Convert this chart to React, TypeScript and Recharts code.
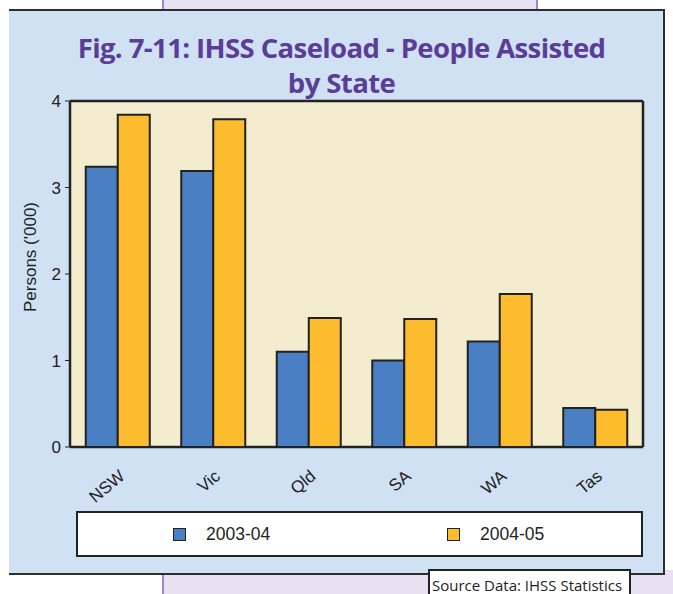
import React from "react";
import { BarChart, Bar, XAxis, YAxis, CartesianGrid } from "recharts";

// Caseload by state, thousands of persons
const states = ["NSW", "Vic", "Qld", "SA", "WA", "Tas"];
const caseload2003 = [3.24, 3.19, 1.1, 1.0, 1.22, 0.45];
const caseload2004 = [3.84, 3.79, 1.49, 1.48, 1.77, 0.43];
const seriesNames = ["2003-04", "2004-05"];
const yTicks = [0, 1, 2, 3, 4];

const data = states.map((s, i) => ({
  state: s,
  y2003: caseload2003[i],
  y2004: caseload2004[i],
}));

const BLUE = "#4a80c3";
const ORANGE = "#fdbb2e";
const INK = "#222222";
const PANEL = "#cfe1f2";
const PLOT_BG = "#f3ecce";
const LAVENDER = "#e6e2f1";
const PURPLE_LINE = "#9a88cc";
const TITLE = "#5b3d99";
const AXIS_FONT = "'Liberation Sans', Arial, sans-serif";

const StateTick = (props: any) => {
  const { x, y, payload } = props;
  const ax = x + 8;
  const ay = y + 23;
  return (
    <text
      x={ax}
      y={ay}
      transform={`rotate(-40, ${ax}, ${ay})`}
      textAnchor="end"
      fontFamily={AXIS_FONT}
      fontSize={17}
      fill={INK}
    >
      {payload.value}
    </text>
  );
};

const YLabel = (props: any) => {
  const vb = props.viewBox || {};
  const cx = vb.x + 20;
  const cy = vb.y + vb.height / 2 - 17;
  return (
    <text
      x={cx}
      y={cy}
      transform={`rotate(-90, ${cx}, ${cy})`}
      textAnchor="middle"
      dominantBaseline="central"
      fontFamily={AXIS_FONT}
      fontSize={17}
      fill={INK}
    >
      Persons ('000)
    </text>
  );
};

// frame lines along the edges of the plot area
const frameRows = ({ offset }: any) => [offset.top, offset.top + offset.height];
const frameCols = ({ offset }: any) => [offset.left, offset.left + offset.width];

const seriesColors = [BLUE, ORANGE];
const legendX = [95, 369];

const titleStyle: React.CSSProperties = {
  position: "absolute",
  left: 0,
  width: 683,
  textAlign: "center",
  fontFamily: "'Open Sans', sans-serif",
  fontWeight: 700,
  fontSize: 27.5,
  lineHeight: "30px",
  height: 30,
  color: TITLE,
  letterSpacing: -0.6,
  whiteSpace: "nowrap",
};

export default function App() {
  return (
    <div
      style={{
        position: "absolute",
        left: 0,
        top: 0,
        width: 673,
        height: 594,
        background: "#ffffff",
        overflow: "hidden",
      }}
    >
      {/* lavender page strips behind the panel */}
      <div
        style={{
          position: "absolute",
          left: 162,
          top: 0,
          width: 372,
          height: 14,
          background: LAVENDER,
          borderLeft: `2px solid ${PURPLE_LINE}`,
          borderRight: `2px solid ${PURPLE_LINE}`,
        }}
      />
      <div
        style={{
          position: "absolute",
          left: 162,
          top: 570,
          width: 520,
          height: 30,
          background: LAVENDER,
          borderLeft: `2px solid ${PURPLE_LINE}`,
        }}
      />
      {/* blue panel */}
      <div
        style={{
          position: "absolute",
          left: 9,
          top: 9,
          width: 654,
          height: 562,
          background: PANEL,
          borderTop: `2px solid #2e2e2e`,
          borderRight: `2px solid #2e2e2e`,
          borderBottom: `2px solid #2e2e2e`,
        }}
      />
      {/* title */}
      <div style={{ ...titleStyle, top: 33 }}>
        Fig. 7-11: IHSS Caseload - People Assisted
      </div>
      <div style={{ ...titleStyle, top: 68 }}>by State</div>

      <div style={{ position: "absolute", left: 0, top: 0 }}>
        <BarChart
          width={673}
          height={594}
          data={data}
          margin={{ top: 101, right: 30, bottom: 117, left: 10 }}
          barCategoryGap="16.5%"
          barGap={0}
        >
          <CartesianGrid
            fill={PLOT_BG}
            fillOpacity={1}
            horizontal={false}
            vertical={false}
            stroke="none"
          />
          <Bar
            dataKey="y2003"
            name={seriesNames[0]}
            fill={BLUE}
            stroke={INK}
            strokeWidth={2}
            isAnimationActive={false}
          />
          <Bar
            dataKey="y2004"
            name={seriesNames[1]}
            fill={ORANGE}
            stroke={INK}
            strokeWidth={2}
            isAnimationActive={false}
          />
          <CartesianGrid
            stroke={INK}
            strokeWidth={2.5}
            horizontalCoordinatesGenerator={frameRows}
            verticalCoordinatesGenerator={frameCols}
            syncWithTicks={false}
          />
          <XAxis
            dataKey="state"
            height={30}
            axisLine={false}
            tickLine={false}
            tick={<StateTick />}
            interval={0}
          />
          <YAxis
            width={60}
            domain={[0, 4]}
            ticks={yTicks}
            interval={0}
            axisLine={false}
            tickLine={{ stroke: INK, strokeWidth: 1 }}
            tickSize={5}
            tickMargin={4}
            tick={{ fontFamily: AXIS_FONT, fontSize: 17, fill: INK }}
            label={<YLabel />}
          />
        </BarChart>
      </div>

      {/* legend */}
      <div
        style={{
          position: "absolute",
          left: 76,
          top: 511,
          width: 563,
          height: 42,
          background: "#ffffff",
          border: `2px solid ${INK}`,
        }}
      >
        {seriesNames.map((name, i) => (
          <div
            key={name}
            style={{
              position: "absolute",
              left: legendX[i],
              top: 0,
              height: 42,
              display: "flex",
              alignItems: "center",
            }}
          >
            <div
              style={{
                width: 11,
                height: 11,
                background: seriesColors[i],
                border: `1.5px solid ${INK}`,
              }}
            />
            <span
              style={{
                marginLeft: 20,
                fontFamily: AXIS_FONT,
                fontSize: 17.5,
                color: INK,
              }}
            >
              {name}
            </span>
          </div>
        ))}
      </div>

      {/* source note */}
      <div
        style={{
          position: "absolute",
          left: 428,
          top: 569,
          width: 197,
          height: 40,
          background: "#ffffff",
          border: `2px solid ${INK}`,
          fontFamily: "'Open Sans', sans-serif",
          fontSize: 15,
          color: INK,
          paddingLeft: 2,
          lineHeight: "28px",
          whiteSpace: "nowrap",
        }}
      >
        Source Data: IHSS Statistics
      </div>
    </div>
  );
}
